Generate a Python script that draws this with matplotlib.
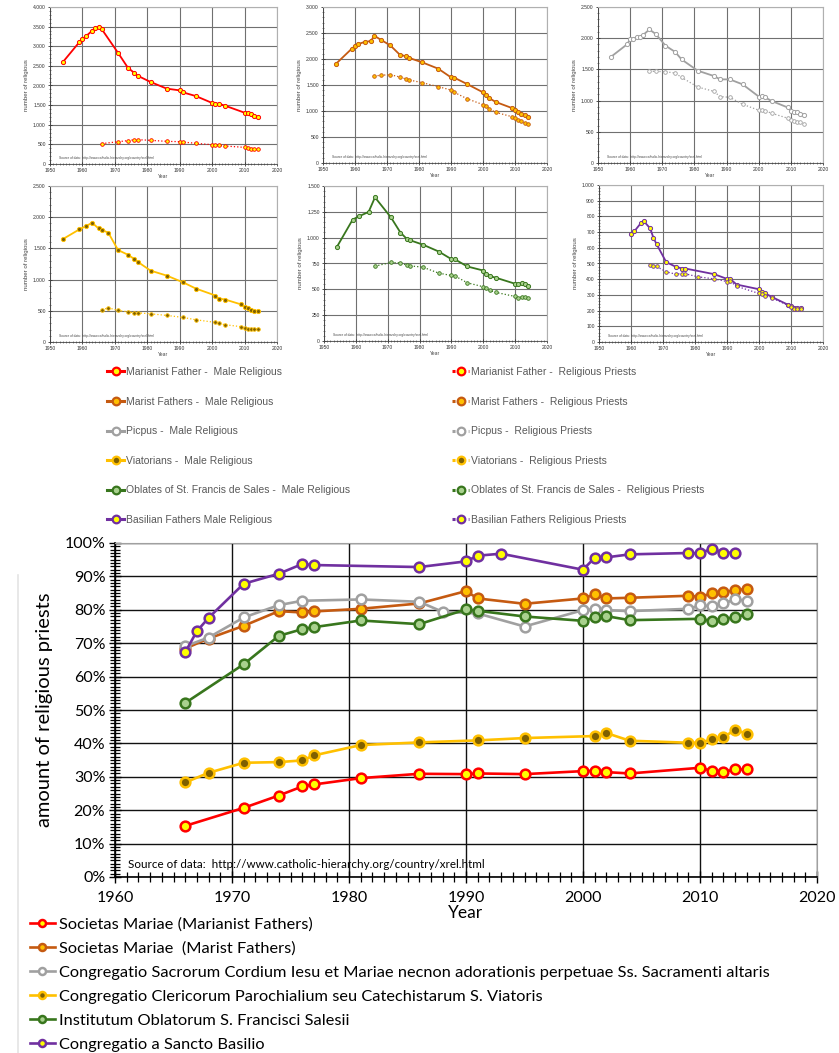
import matplotlib
matplotlib.use("Agg")
import matplotlib.pyplot as plt
from matplotlib.ticker import MultipleLocator, FuncFormatter
from matplotlib.lines import Line2D

# ---- small panels: number of religious ----
mar_years_m = [1954, 1959, 1960, 1961, 1963, 1964, 1965, 1966, 1971, 1974, 1976, 1977, 1981, 1986, 1990, 1991, 1995, 2000, 2001, 2002, 2004, 2010, 2011, 2012, 2013, 2014]
mar_male = [2600, 3100, 3190, 3250, 3395, 3455, 3490, 3430, 2830, 2455, 2320, 2250, 2090, 1920, 1876, 1825, 1730, 1555, 1535, 1535, 1485, 1307, 1300, 1265, 1215, 1190]
mar_years_p = [1966, 1971, 1974, 1976, 1977, 1981, 1986, 1990, 1991, 1995, 2000, 2001, 2002, 2004, 2010, 2011, 2012, 2013, 2014]
mar_priests = [518, 569, 594, 620, 620, 603, 577, 569, 560, 526, 492, 484, 475, 458, 424, 407, 390, 382, 374]

mst_years_m = [1954, 1959, 1960, 1961, 1963, 1965, 1966, 1968, 1971, 1974, 1976, 1977, 1981, 1986, 1990, 1991, 1995, 2000, 2001, 2002, 2004, 2009, 2010, 2011, 2012, 2013, 2014]
mst_male = [1904, 2199, 2244, 2288, 2327, 2346, 2449, 2372, 2263, 2083, 2051, 2019, 1936, 1814, 1647, 1641, 1519, 1359, 1314, 1244, 1173, 1058, 1026, 974, 942, 917, 878]
mst_years_p = [1966, 1968, 1971, 1974, 1976, 1977, 1981, 1986, 1990, 1991, 1995, 2000, 2001, 2002, 2004, 2009, 2010, 2011, 2012, 2013, 2014]
mst_priests = [1673, 1686, 1699, 1654, 1615, 1596, 1545, 1468, 1404, 1359, 1237, 1122, 1103, 1038, 974, 891, 859, 827, 801, 769, 750]

pic_years_m = [1954, 1959, 1960, 1961, 1962, 1963, 1964, 1966, 1968, 1971, 1974, 1976, 1981, 1986, 1988, 1991, 1995, 2000, 2001, 2002, 2004, 2009, 2010, 2011, 2012, 2013, 2014]
pic_male = [1700, 1900, 1980, 1990, 2015, 2015, 2050, 2140, 2065, 1880, 1780, 1660, 1480, 1395, 1340, 1340, 1260, 1065, 1075, 1050, 995, 890, 840, 820, 810, 793, 771]
pic_years_p = [1966, 1968, 1971, 1974, 1976, 1981, 1986, 1988, 1991, 1995, 2000, 2001, 2002, 2004, 2009, 2010, 2011, 2012, 2013, 2014]
pic_priests = [1473, 1468, 1463, 1441, 1372, 1218, 1149, 1064, 1053, 941, 846, 851, 835, 798, 718, 686, 676, 665, 654, 633]

via_years_m = [1954, 1959, 1961, 1963, 1965, 1966, 1968, 1971, 1974, 1976, 1977, 1981, 1986, 1991, 1995, 2001, 2002, 2004, 2009, 2010, 2011, 2012, 2013, 2014]
via_male = [1650, 1803, 1856, 1910, 1819, 1798, 1750, 1473, 1399, 1330, 1287, 1144, 1064, 957, 856, 745, 697, 681, 601, 559, 537, 516, 489, 495]
via_years_p = [1966, 1968, 1971, 1974, 1976, 1977, 1981, 1986, 1991, 1995, 2001, 2002, 2004, 2009, 2010, 2011, 2012, 2013, 2014]
via_priests = [516, 548, 505, 484, 468, 468, 452, 426, 394, 356, 314, 298, 277, 245, 218, 213, 213, 213, 207]

obl_years_m = [1954, 1959, 1961, 1964, 1966, 1971, 1974, 1976, 1977, 1981, 1986, 1990, 1991, 1995, 2000, 2001, 2002, 2004, 2010, 2011, 2012, 2013, 2014]
obl_male = [908, 1175, 1207, 1249, 1390, 1197, 1049, 988, 975, 933, 866, 792, 792, 721, 682, 650, 628, 612, 554, 547, 557, 547, 537]
obl_years_p = [1966, 1971, 1974, 1976, 1977, 1981, 1986, 1990, 1991, 1995, 2000, 2001, 2002, 2004, 2010, 2011, 2012, 2013, 2014]
obl_priests = [724, 760, 756, 734, 727, 715, 657, 634, 631, 563, 525, 512, 489, 470, 431, 415, 428, 425, 418]

bas_years_m = [1960, 1961, 1963, 1964, 1966, 1967, 1968, 1971, 1974, 1976, 1977, 1986, 1990, 1991, 1993, 2000, 2001, 2002, 2004, 2009, 2010, 2011, 2012, 2013]
bas_male = [691, 704, 755, 770, 723, 664, 623, 509, 479, 468, 468, 432, 402, 402, 366, 336, 317, 309, 287, 238, 228, 219, 219, 219]
bas_years_p = [1966, 1967, 1968, 1971, 1974, 1976, 1977, 1981, 1986, 1990, 1991, 1993, 2000, 2001, 2002, 2004, 2009, 2010, 2011, 2012, 2013]
bas_priests = [489, 487, 481, 447, 432, 436, 434, 415, 402, 385, 387, 355, 309, 304, 294, 281, 234, 223, 213, 213, 211]

# ---- big chart: share of religious priests (%) ----
pct_years_mar = [1966, 1971, 1974, 1976, 1977, 1981, 1986, 1990, 1991, 1995, 2000, 2001, 2002, 2004, 2010, 2011, 2012, 2013, 2014]
pct_mar = [15.3, 20.7, 24.4, 27.1, 27.7, 29.6, 30.9, 30.8, 31.0, 30.8, 31.7, 31.8, 31.4, 31.0, 32.7, 31.8, 31.5, 32.2, 32.2]
pct_years_mst = [1966, 1968, 1971, 1974, 1976, 1977, 1981, 1986, 1990, 1991, 1995, 2000, 2001, 2002, 2004, 2009, 2010, 2011, 2012, 2013, 2014]
pct_mst = [68.4, 71.4, 75.2, 79.6, 79.2, 79.5, 80.3, 81.9, 85.6, 83.4, 81.8, 83.4, 84.6, 83.4, 83.6, 84.2, 83.9, 84.9, 85.3, 85.8, 86.3]
pct_years_pic = [1966, 1968, 1971, 1974, 1976, 1981, 1986, 1988, 1991, 1995, 2000, 2001, 2002, 2004, 2009, 2010, 2011, 2012, 2013, 2014]
pct_pic = [69.1, 71.7, 77.7, 81.4, 82.7, 83.1, 82.4, 79.4, 78.9, 75.0, 79.9, 80.2, 79.9, 79.6, 80.3, 81.3, 81.1, 81.9, 83.1, 82.7]
pct_years_via = [1966, 1968, 1971, 1974, 1976, 1977, 1981, 1986, 1991, 1995, 2001, 2002, 2004, 2009, 2010, 2011, 2012, 2013, 2014]
pct_via = [28.3, 31.2, 34.2, 34.4, 34.9, 36.4, 39.5, 40.3, 40.9, 41.6, 42.2, 43.1, 40.8, 40.2, 40.2, 41.2, 41.8, 44.1, 42.9]
pct_years_obl = [1966, 1971, 1974, 1976, 1977, 1981, 1986, 1990, 1991, 1995, 2000, 2001, 2002, 2004, 2010, 2011, 2012, 2013, 2014]
pct_obl = [52.1, 63.7, 72.2, 74.2, 74.8, 76.8, 75.7, 80.1, 79.7, 78.0, 76.7, 77.7, 78.1, 76.9, 77.3, 76.6, 77.3, 77.7, 78.7]
pct_years_bas = [1966, 1967, 1968, 1971, 1974, 1976, 1977, 1986, 1990, 1991, 1993, 2000, 2001, 2002, 2004, 2009, 2010, 2011, 2012, 2013]
pct_bas = [67.3, 73.6, 77.6, 87.8, 90.8, 93.7, 93.4, 92.8, 94.5, 96.2, 96.8, 92.0, 95.6, 95.7, 96.6, 97.0, 96.9, 98.3, 97.1, 97.1]

short_names = ["Marianist Father -  ", "Marist Fathers -  ", "Picpus -  ", "Viatorians -  ",
               "Oblates of St. Francis de Sales -  ", "Basilian Fathers "]
long_names = ["Societas Mariae (Marianist Fathers)",
              "Societas Mariae  (Marist Fathers)",
              "Congregatio Sacrorum Cordium Iesu et Mariae necnon adorationis perpetuae Ss. Sacramenti altaris",
              "Congregatio Clericorum Parochialium seu Catechistarum S. Viatoris",
              "Institutum Oblatorum S. Francisci Salesii",
              "Congregatio a Sancto Basilio"]
colors = ["#FF0000", "#C55A11", "#A0A0A0", "#FFC000", "#38761D", "#7030A0"]
faces = ["#FFFF00", "#FFC000", "#FFFFFF", "#7F6000", "#A9D18E", "#FFFF00"]

source = "Source of data:  http://www.catholic-hierarchy.org/country/xrel.html"

W, H = 839, 1053


def box(x0, y0, x1, y1):
    return [x0 / W, 1 - y1 / H, (x1 - x0) / W, (y1 - y0) / H]


def dotted_thousands(v, pos):
    return f"{int(round(v)):,}".replace(",", ".")


def small_panel(rect, ym, male, yp, priests, i, ymax, ystep, yminor):
    ax = fig.add_axes(rect)
    ax.plot(ym, male, '-o', color=colors[i], lw=1.3, ms=3.0, mfc=faces[i],
            mec=colors[i], mew=0.7)
    ax.plot(yp, priests, ':o', color=colors[i], lw=0.9, ms=2.6, mfc=faces[i],
            mec=colors[i], mew=0.6)
    ax.set_xlim(1950, 2020)
    ax.set_ylim(0, ymax)
    ax.xaxis.set_major_locator(MultipleLocator(10))
    ax.xaxis.set_minor_locator(MultipleLocator(1))
    ax.yaxis.set_major_locator(MultipleLocator(ystep))
    ax.yaxis.set_minor_locator(MultipleLocator(yminor))
    ax.yaxis.set_major_formatter(FuncFormatter(dotted_thousands))
    ax.grid(True, which='major', color='#707070', lw=0.8)
    ax.set_axisbelow(True)
    ax.tick_params(which='both', direction='inout', labelsize=3.6, colors='#333333', pad=1.5)
    ax.tick_params(which='major', length=3, width=0.6)
    ax.tick_params(which='minor', length=2, width=0.4)
    for s in ['top', 'right']:
        ax.spines[s].set_color('#b0b0b0')
    for s in ['left', 'bottom']:
        ax.spines[s].set_color('#444444')
        ax.spines[s].set_linewidth(0.6)
    ax.set_ylabel("number of religious", fontsize=4.4, color='#444444', labelpad=3)
    ax.set_xlabel("Year", fontsize=3.6, color='#444444', labelpad=0.5)
    ax.text(0.04, 0.03, source, transform=ax.transAxes, fontsize=2.3, color='#444444')


plt.rcParams['font.family'] = ['Liberation Sans', 'DejaVu Sans']
fig = plt.figure(figsize=(8.39, 10.53), dpi=100)

small_panel(box(50, 7, 277, 164), mar_years_m, mar_male, mar_years_p, mar_priests, 0, 4000, 500, 100)
small_panel(box(323, 7, 547, 163), mst_years_m, mst_male, mst_years_p, mst_priests, 1, 3000, 500, 100)
small_panel(box(598, 7, 823, 163), pic_years_m, pic_male, pic_years_p, pic_priests, 2, 2500, 500, 100)
small_panel(box(50, 186, 277, 342), via_years_m, via_male, via_years_p, via_priests, 3, 2500, 500, 100)
small_panel(box(324, 186, 547, 341), obl_years_m, obl_male, obl_years_p, obl_priests, 4, 1500, 250, 50)
small_panel(box(599, 185, 823, 342), bas_years_m, bas_male, bas_years_p, bas_priests, 5, 1000, 100, 20)

# legend for the small panels (bigger samples than the panel lines)
male_handles = [Line2D([], [], color=c, lw=2.2, marker='o', ms=5.5, mfc=f, mec=c, mew=1.6,
                       label=n + "Male Religious") for c, f, n in zip(colors, faces, short_names)]
priest_handles = [Line2D([], [], color=c, lw=2.2, ls=':', marker='o', ms=5.5, mfc=f, mec=c,
                         mew=1.6, label=n + "Religious Priests")
                  for c, f, n in zip(colors, faces, short_names)]
leg_kw = dict(loc='upper left', frameon=False, fontsize=7.5, labelcolor='#595959',
              handlelength=1.65, handletextpad=0.2, labelspacing=1.88,
              borderpad=0, borderaxespad=0, numpoints=1)
fig.legend(handles=male_handles, bbox_to_anchor=(107 / W, 1 - 367 / H), **leg_kw)
fig.legend(handles=priest_handles, bbox_to_anchor=(452 / W, 1 - 367 / H), **leg_kw)

# ---- big chart ----
big_font = ['Lato', 'DejaVu Sans']
ax = fig.add_axes(box(115, 543, 817, 877))
series = [(pct_years_mar, pct_mar), (pct_years_mst, pct_mst), (pct_years_pic, pct_pic),
          (pct_years_via, pct_via), (pct_years_obl, pct_obl), (pct_years_bas, pct_bas)]
big_lines = []
for i, (x, y) in enumerate(series):
    ln, = ax.plot(x, y, '-o', color=colors[i], lw=1.9, ms=7, mfc=faces[i], mec=colors[i],
                  mew=1.8, label=long_names[i], zorder=3 + i)
    big_lines.append(ln)

ax.set_xlim(1960, 2020)
ax.set_ylim(0, 100)
ax.xaxis.set_major_locator(MultipleLocator(10))
ax.xaxis.set_minor_locator(MultipleLocator(1))
ax.yaxis.set_major_locator(MultipleLocator(10))
ax.yaxis.set_minor_locator(MultipleLocator(1))
ax.yaxis.set_major_formatter(FuncFormatter(lambda v, p: f"{int(v)}%"))
ax.grid(True, which='major', color='#111111', lw=1.0)
ax.set_axisbelow(True)
ax.tick_params(which='both', direction='inout', colors='black')
ax.tick_params(which='major', length=8, width=1.0, labelsize=11.5, pad=3)
ax.tick_params(which='minor', length=7, width=0.9)
ax.tick_params(axis='x', which='major', pad=6)
for lab in ax.get_xticklabels() + ax.get_yticklabels():
    lab.set_family(big_font)
for s in ['top', 'right']:
    ax.spines[s].set_color('#a0a0a0')
for s in ['left', 'bottom']:
    ax.spines[s].set_color('black')
    ax.spines[s].set_linewidth(1.2)
ax.set_xlabel("Year", fontsize=12.5, family=big_font, labelpad=0)
ax.set_ylabel("amount of religious priests", fontsize=14.5, family=big_font, labelpad=8)
ax.text(0.018, 0.036, source, transform=ax.transAxes, fontsize=8.4, family=big_font,
        va='center', zorder=10)

fig.legend(handles=big_lines, loc='upper left', bbox_to_anchor=(30 / W, 1 - 917 / H),
           frameon=False, prop={'family': big_font, 'size': 11.8}, handlelength=1.5,
           handletextpad=0.25, labelspacing=0.59, borderpad=0, borderaxespad=0,
           numpoints=1, markerscale=0.72)

fig.add_artist(Line2D([18 / W, 18 / W], [0, 1 - 575 / H], color='#e4e4e4', lw=1.2))

fig.savefig("out.png", dpi=100)
